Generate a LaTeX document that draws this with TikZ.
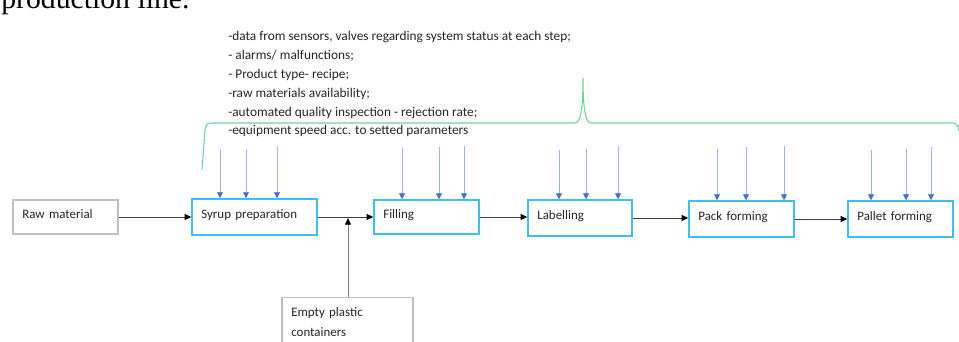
\documentclass[tikz,border=0pt]{standalone}
\usepackage{fontspec}
\setmainfont{Carlito}
\newfontfamily\serifdoc{Liberation Serif}
\usetikzlibrary{arrows.meta}
\definecolor{txtgray}{HTML}{262626}
\definecolor{boxcyan}{HTML}{3CC0F0}
\definecolor{boxgray}{HTML}{BFBFBF}
\definecolor{arrowblue}{HTML}{4472C4}
\definecolor{shaftblue}{HTML}{9FB6E2}
\definecolor{bracegreen}{HTML}{6FD39A}
\definecolor{linegray}{HTML}{404040}
\tikzset{
  procbox/.style={draw=boxcyan, line width=1.1pt, inner xsep=7pt, align=left,
    text=txtgray, font=\fontsize{9.7}{12}\selectfont, text height=7.9pt, text depth=6pt},
  srcbox/.style={draw=boxgray, line width=0.9pt, inner xsep=7pt, align=left,
    text=txtgray, font=\fontsize{9.7}{12}\selectfont, text height=7.9pt, text depth=6pt},
  flow/.style={draw=linegray, line width=0.6pt, -{Triangle[length=5pt,width=4.5pt,color=black]}},
  feed/.style={draw=shaftblue, line width=0.7pt, -{Triangle[length=4.5pt,width=4.5pt,color=arrowblue]}},
}
\begin{document}
\begin{tikzpicture}[x=0.75pt,y=-0.75pt]
\clip (0,0) rectangle (959,342);
\fill[white] (0,0) rectangle (959,342);

% partial heading text
\node[anchor=base west, inner sep=0pt, font=\serifdoc\fontsize{22.3}{24}\selectfont] (head) at (1,9) {production line.};

% info text
\node[anchor=base west, inner sep=0pt, align=left, text=txtgray, font=\fontsize{10}{14.1}\selectfont] (info) at (228,135)
{-data from sensors, valves regarding system status at each step;\\
- alarms/ malfunctions;\\
- Product type- recipe;\\
-raw materials availability;\\
-automated quality inspection - rejection rate;\\
-equipment speed acc. to setted parameters};

% brace
\draw[bracegreen, line width=0.8pt] (202,170) -- (205,130) .. controls (206,124) and (207,123) .. (212,123)
  -- (575,123) .. controls (580,123) and (583,112) .. (583,78)
  .. controls (583,112) and (586,123) .. (591,123)
  -- (952,123) .. controls (956,123) and (958,125) .. (959,131);

% boxes
\node[srcbox, text width=64.75pt, minimum height=25.5pt] (raw) at (65.5,217) {Raw material};
\node[procbox, text width=79.75pt, minimum height=27pt] (syrup) at (254.5,217) {Syrup preparation};
\node[procbox, text width=64.75pt, minimum height=25.5pt] (fill) at (426.5,217) {Filling};
\node[procbox, text width=64pt, minimum height=27pt] (label) at (580,218) {Labelling};
\node[procbox, text width=64.75pt, minimum height=27pt] (pack) at (741.5,219) {Pack forming};
\node[procbox, text width=64.75pt, minimum height=27pt] (pallet) at (900.5,219) {Pallet forming};
\node[srcbox, anchor=north, text width=84.25pt, minimum height=48pt, text height=12pt, text depth=34pt,
  inner ysep=2pt, font=\fontsize{9.7}{15}\selectfont] (empty) at (347.5,297) {Empty plastic\\containers};

% flow arrows
\draw[flow] (raw.east) -- (syrup.west);
\draw[flow] (syrup.east) -- (fill.west);
\draw[flow] (fill.east) -- (fill.east -| label.west);
\draw[flow] (label.east) -- (label.east -| pack.west);
\draw[flow] (pack.east) -- (pallet.west);
\coordinate (join) at (348,218);
\draw[flow, draw=gray] (empty.north -| join) -- (join);

% feed arrows
\foreach \n/\x/\y/\b in {s1/220/149/syrup, s2/246/150/syrup, s3/277/146/syrup,
  f1/402/148/fill, f2/439/147/fill, f3/464/146/fill,
  l1/559/150/label, l2/586/149/label, l3/618/146/label,
  p1/717/149/pack, p2/746/147/pack, p3/784/146/pack,
  q1/871/150/pallet, q2/906/149/pallet, q3/931/147/pallet}{
  \coordinate (\n) at (\x,\y);
  \draw[feed] (\n) -- (\n |- \b.north);
}
\end{tikzpicture}
\end{document}
